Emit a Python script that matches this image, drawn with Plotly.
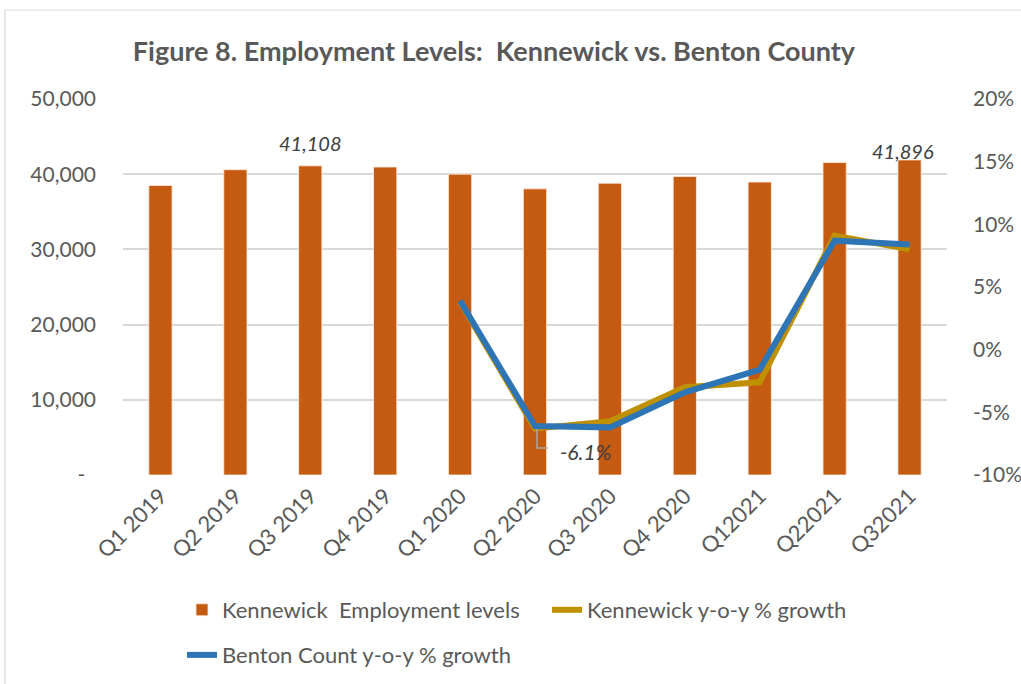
import plotly.graph_objects as go

quarters = ["Q1 2019", "Q2 2019", "Q3 2019", "Q4 2019", "Q1 2020", "Q2 2020",
            "Q3 2020", "Q4 2020", "Q12021", "Q22021", "Q32021"]
employment = [38500, 40600, 41108, 40950, 40000, 38050, 38800, 39700, 38950, 41550, 41896]
kennewick_growth = [None, None, None, None, 3.8, -6.3, -5.7, -3.0, -2.6, 9.1, 8.0]
benton_growth = [None, None, None, None, 3.9, -6.1, -6.2, -3.4, -1.6, 8.7, 8.4]

left_ticks = [0, 10000, 20000, 30000, 40000, 50000]
left_labels = ["-\u00a0\u00a0", "10,000", "20,000", "30,000", "40,000", "50,000"]
right_ticks = [-10, -5, 0, 5, 10, 15, 20]
right_labels = ["-10%", "-5%", "0%", "5%", "10%", "15%", "20%"]

FONT = "Lato"
GREY = "#595959"
DARK = "#404040"

fig = go.Figure()
fig.add_trace(go.Bar(
    x=quarters, y=employment, name="Kennewick  Employment levels",
    marker=dict(color="#C55A11", line=dict(color="rgba(255,235,220,0.8)", width=1)),
    width=0.31, legend="legend",
))
fig.add_trace(go.Scatter(
    x=quarters, y=kennewick_growth, name="Kennewick y-o-y % growth", yaxis="y2",
    mode="lines", line=dict(color="#BF9000", width=6), legend="legend",
))
fig.add_trace(go.Scatter(
    x=quarters, y=benton_growth, name="Benton Count y-o-y % growth", yaxis="y2",
    mode="lines", line=dict(color="#2E75B6", width=6), legend="legend2",
))

# value labels on the two highlighted bars
for idx, dx, dy in [(2, 0, 23), (10, -7, 9)]:
    fig.add_annotation(x=quarters[idx], y=employment[idx], xref="x", yref="y",
                       text=f"<i>{employment[idx]:,}</i>", showarrow=False,
                       xshift=dx, yshift=dy,
                       font=dict(family=FONT, size=20, color=DARK))

# label for the Q2 2020 trough with an elbow leader line
trough = 5
fig.add_annotation(x=quarters[trough], y=benton_growth[trough], xref="x", yref="y2",
                   text=f"<i>{benton_growth[trough]:.1f}%</i>", showarrow=False,
                   xshift=50, yshift=-25,
                   font=dict(family=FONT, size=21, color=DARK))
fig.add_shape(type="path", xref="x", yref="y2", xsizemode="pixel", ysizemode="pixel",
              xanchor=quarters[trough], yanchor=benton_growth[trough],
              path="M 2,-3 L 2,-22 L 13,-22", line=dict(color="#A6A6A6", width=1.5))

# chart area border
fig.add_shape(type="rect", xref="paper", yref="paper",
              x0=-0.1432, x1=1.2, y0=-0.6, y1=1.2367,
              line=dict(color="#D9D9D9", width=1.2), layer="below")

fig.update_layout(
    width=1021, height=684,
    margin=dict(l=123, r=74, t=99, b=209, autoexpand=False),
    paper_bgcolor="white", plot_bgcolor="white",
    font=dict(family=FONT, color=GREY),
    title=dict(text="<b>Figure 8. Employment Levels:  Kennewick vs. Benton County</b>",
               x=0.4838, xref="container", xanchor="center",
               y=1 - 52 / 684, yref="container", yanchor="middle",
               font=dict(family=FONT, size=27, color=GREY)),
    xaxis=dict(showgrid=False, tickangle=-45, tickfont=dict(size=22, color=GREY),
               ticks="", ticklabelstandoff=3, showline=False, automargin=False),
    yaxis=dict(range=[0, 50000], tickvals=left_ticks, ticktext=left_labels,
               showgrid=True, gridcolor="#D9D9D9", gridwidth=1.5,
               zeroline=False, showline=False, automargin=False,
               tickfont=dict(size=21, color=GREY), ticklabelstandoff=26),
    yaxis2=dict(range=[-10, 20], tickvals=right_ticks, ticktext=right_labels,
                overlaying="y", side="right", showgrid=False, zeroline=False,
                automargin=False,
                tickfont=dict(size=21, color=GREY), ticklabelstandoff=25),
    legend=dict(orientation="h", x=0.0716, xanchor="left", y=-0.359, yanchor="middle",
                font=dict(family=FONT, size=22, color=GREY), entrywidth=320,
                bgcolor="rgba(0,0,0,0)", traceorder="normal"),
    legend2=dict(orientation="h", x=0.0716, xanchor="left", y=-0.479, yanchor="middle",
                 font=dict(family=FONT, size=22, color=GREY),
                 bgcolor="rgba(0,0,0,0)"),
    showlegend=True,
)

fig.write_html("out.html")
